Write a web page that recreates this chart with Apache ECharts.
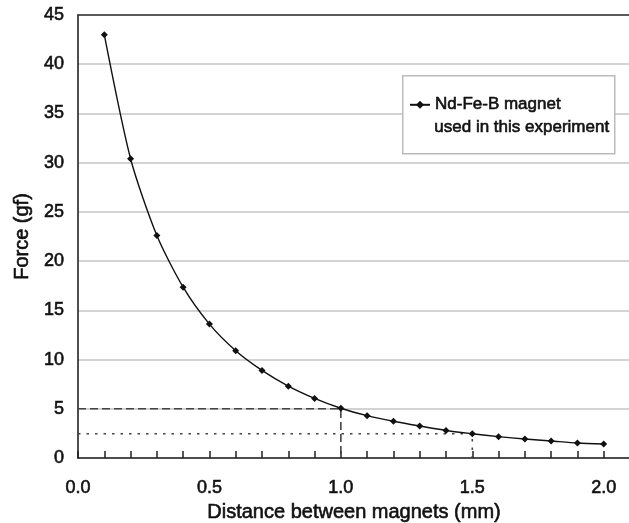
<!DOCTYPE html>
<html>
<head>
<meta charset="utf-8">
<script src="https://cdn.jsdelivr.net/npm/echarts@6/dist/echarts.min.js"></script>
<style>
html,body{margin:0;padding:0;background:#fff;}
#chart{width:629px;height:523px;}
</style>
</head>
<body>
<div id="chart"></div>
<script>
const distances = [0.1,0.2,0.3,0.4,0.5,0.6,0.7,0.8,0.9,1.0,1.1,1.2,1.3,1.4,1.5,1.6,1.7,1.8,1.9,2.0];
const forces = [43.0,30.4,22.6,17.35,13.6,10.9,8.9,7.3,6.05,5.05,4.3,3.73,3.25,2.8,2.47,2.17,1.93,1.73,1.52,1.42];
const seriesName = "Nd-Fe-B magnet";
const legendSecondLine = "used in this experiment";
const dashedGuide = [[0,5.0],[1.0,5.0],[1.0,0]];
const dottedGuide = [[0,2.47],[1.5,2.47],[1.5,0]];
const xTickLabels = ["0.0","0.5","1.0","1.5","2.0"];

const FONT = "'Liberation Sans', Arial, sans-serif";
const INK = '#111';
const heavy = {textBorderColor:INK, textBorderWidth:0.6};
const chart = echarts.init(document.getElementById('chart'));
const mainData = distances.map((d,i)=>[d,forces[i]]);

chart.setOption({
  animation:false,
  backgroundColor:'#fff',
  grid:{left:78, top:15, width:552, height:443, containLabel:false, outerBoundsMode:'none'},
  xAxis:[{
    type:'value', min:0, max:2.1, interval:0.1,
    name:'Distance between magnets (mm)', nameLocation:'middle', nameGap:40,
    nameTextStyle:Object.assign({fontFamily:FONT, fontSize:20, color:INK}, heavy),
    axisLine:{show:true, lineStyle:{color:'#222', width:1.6}},
    axisTick:{show:true, inside:true, length:7, lineStyle:{color:'#222', width:1.5}},
    axisLabel:Object.assign({margin:21, fontFamily:FONT, fontSize:18, color:INK,
      formatter:function(v){const t=Math.round(v*10); if(t%5!==0) return ''; const s=(t/10).toFixed(1); return xTickLabels.indexOf(s)>=0?s:'';}}, heavy),
    splitLine:{show:false}
  },{
    type:'value', position:'top', min:0, max:2.1,
    axisLine:{show:true, onZero:false, lineStyle:{color:'#333', width:1.6}},
    axisTick:{show:false}, axisLabel:{show:false}, splitLine:{show:false}
  }],
  yAxis:{
    type:'value', min:0, max:45, interval:5,
    name:'Force (gf)', nameLocation:'middle', nameGap:44,
    nameTextStyle:Object.assign({fontFamily:FONT, fontSize:20, color:INK}, heavy),
    axisLine:{show:true, lineStyle:{color:'#222', width:1.6}},
    axisTick:{show:false},
    axisLabel:Object.assign({margin:14, fontFamily:FONT, fontSize:18, color:INK}, heavy),
    splitLine:{show:true, lineStyle:{color:'#c4c4c4', width:1.5}}
  },
  legend:{
    data:[seriesName], left:409, top:96, orient:'vertical',
    itemWidth:20, itemHeight:10, padding:0,
    textStyle:Object.assign({fontFamily:FONT, fontSize:17, color:INK}, heavy),
    selectedMode:false, z:10
  },
  graphic:[
    {type:'rect', left:402, top:75, shape:{width:212, height:78}, style:{fill:'#fff', stroke:'#bbb', lineWidth:1.5}, z:5, silent:true},
    {type:'text', left:434, top:119, style:{text:legendSecondLine, font:"17px " + FONT, fill:INK, stroke:INK, lineWidth:0.6}, z:11, silent:true}
  ],
  series:[
    {name:'guide5', type:'line', data:dashedGuide, symbol:'none', lineStyle:{color:'#444', width:1.6, type:[8,4]}, z:1, silent:true},
    {name:'guide25', type:'line', data:dottedGuide, symbol:'none', lineStyle:{color:'#444', width:1.6, type:[2.5,6]}, z:1, silent:true},
    {name:seriesName, type:'line', data:mainData, smooth:0.25,
      symbol:'diamond', symbolSize:7, itemStyle:{color:'#111'},
      lineStyle:{color:'#111', width:1.4}, z:3}
  ]
});
</script>
</body>
</html>
